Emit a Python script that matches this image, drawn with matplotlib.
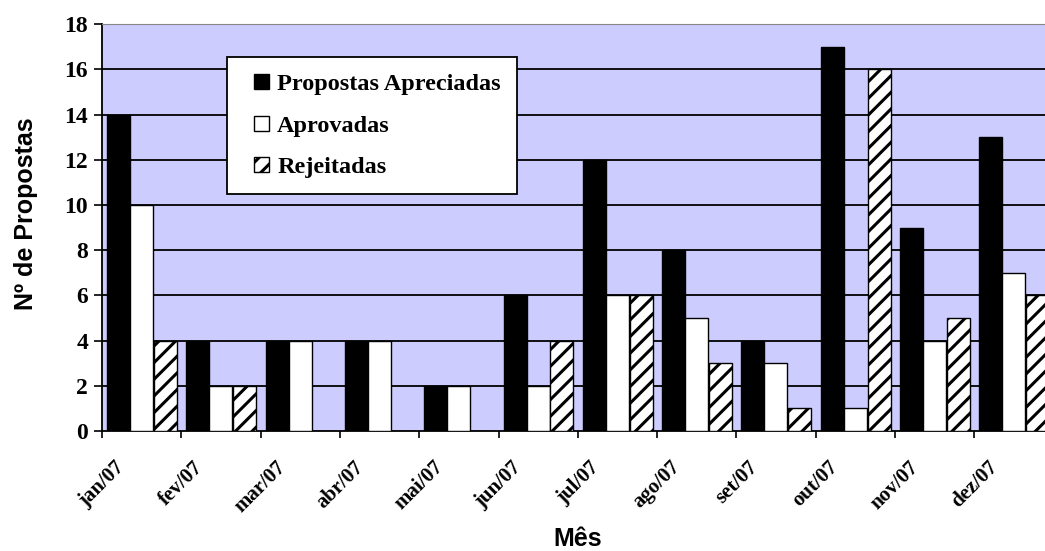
import numpy as np
import matplotlib
matplotlib.use('Agg')
import matplotlib.pyplot as plt
from matplotlib.patches import Patch, Rectangle
from matplotlib.legend_handler import HandlerPatch

meses = ['jan/07', 'fev/07', 'mar/07', 'abr/07', 'mai/07', 'jun/07',
         'jul/07', 'ago/07', 'set/07', 'out/07', 'nov/07', 'dez/07']
apreciadas = [14, 4, 4, 4, 2, 6, 12, 8, 4, 17, 9, 13]
aprovadas = [10, 2, 4, 4, 2, 2, 6, 5, 3, 1, 4, 7]
rejeitadas = [4, 2, 0, 0, 0, 4, 6, 3, 1, 16, 5, 6]

serif = 'Liberation Serif'
sans = 'Liberation Sans'
plt.rcParams['hatch.linewidth'] = 2.2

fig = plt.figure(figsize=(10.45, 5.51), dpi=100)
ax = fig.add_axes([0.0976, 0.218, 0.9024, 0.738])
ax.set_facecolor('#ccccff')

x = np.arange(len(meses))
w = 0.29
ax.bar(x + 0.063, apreciadas, w, align='edge', color='black',
       edgecolor='black', linewidth=1, zorder=3)
ax.bar(x + 0.353, aprovadas, w, align='edge', color='white',
       edgecolor='black', linewidth=1, zorder=3)
ax.bar(x + 0.655, rejeitadas, w, align='edge', color='white',
       edgecolor='black', hatch='//', linewidth=1, zorder=3)

ax.set_ylim(0, 18)
ax.set_xlim(0, 11.89)
ax.set_yticks(range(0, 19, 2))
ax.set_xticks(x)
ax.set_xticklabels(meses, rotation=45, fontfamily=serif, fontweight='bold',
                   fontsize=15)
for lbl in ax.get_yticklabels():
    lbl.set_fontfamily(serif)
    lbl.set_fontweight('bold')
    lbl.set_fontsize(17)
ax.tick_params(axis='x', length=5, width=1.2, pad=14, colors='black')
ax.tick_params(axis='y', length=6, width=1.2, pad=4, colors='black')

for y in range(2, 18, 2):
    ax.axhline(y, color='black', linewidth=1.3, zorder=1)

ax.spines['top'].set_color('#888888')
ax.spines['right'].set_visible(False)
ax.spines['left'].set_linewidth(1.3)
ax.spines['bottom'].set_linewidth(1.3)

ax.set_ylabel('Nº de Propostas', fontfamily=sans, fontweight='bold',
              fontsize=18)
ax.yaxis.set_label_coords(-0.068, 0.533)
ax.set_xlabel('Mês', fontfamily=sans, fontweight='bold', fontsize=18)
ax.xaxis.set_label_coords(0.504, -0.236)


def small_square(legend, orig_handle, xdescent, ydescent, width, height,
                 fontsize):
    s = 0.62 * fontsize
    return Rectangle((width - s - xdescent, -ydescent + (height - s) / 2),
                     s, s)


handles = [Patch(facecolor='black', edgecolor='black'),
           Patch(facecolor='white', edgecolor='black'),
           Patch(facecolor='white', edgecolor='black', hatch='//')]
fs = 17.5
leg = ax.legend(handles, ['Propostas Apreciadas', 'Aprovadas', 'Rejeitadas'],
                loc='upper left', bbox_to_anchor=(0.1326, 0.919),
                prop={'family': serif, 'weight': 'bold', 'size': fs},
                handler_map={Patch: HandlerPatch(patch_func=small_square)},
                frameon=True, fancybox=False, framealpha=1,
                handlelength=1.05, handleheight=0.7, handletextpad=0.35,
                labelspacing=0.8, borderpad=0.66, borderaxespad=0)
leg.get_frame().set_edgecolor('black')
leg.get_frame().set_linewidth(1.3)
leg.set_zorder(5)

fig.savefig('out.png', dpi=100)
